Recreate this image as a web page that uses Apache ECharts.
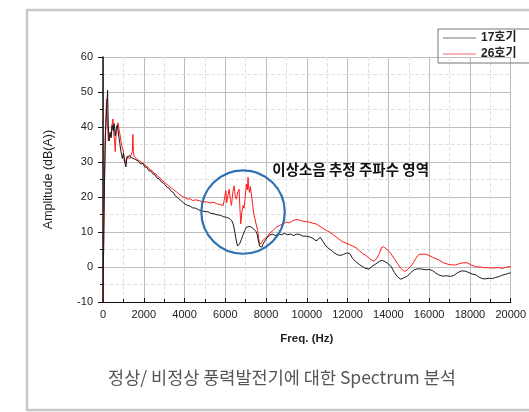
<!DOCTYPE html>
<html>
<head>
<meta charset="utf-8">
<script src="https://cdn.jsdelivr.net/npm/echarts@6/dist/echarts.min.js"></script>
<style>
html,body{margin:0;padding:0;background:#fff;}
#c{width:529px;height:412px;}
</style>
</head>
<body>
<div id="c"></div>
<script>
// ---- data ----
const seriesNames = ['17호기', '26호기'];
const xTicks = [0, 2000, 4000, 6000, 8000, 10000, 12000, 14000, 16000, 18000, 20000];
const yTicks = [-10, 0, 10, 20, 30, 40, 50, 60];

const freq17 = [0,60,120,180,225,260,300,350,400,450,500,550,600,650,700,760,820,880,950,1000,1060,1124,1180,1250,1320,1400,1480,1560,1650,1750,1850,1950,2050,2150,2250,2350,2450,2550,2650,2750,2850,2950,3050,3150,3250,3350,3450,3550,3650,3750,3850,3950,4050,4150,4266,4400,4550,4700,4850,5000,5150,5300,5450,5600,5750,5900,6050,6221,6320,6400,6470,6540,6600,6640,6700,6791,6870,6953,7040,7115,7200,7300,7400,7500,7570,7630,7686,7740,7790,7850,7932,8050,8176,8300,8450,8600,8750,8900,9050,9200,9350,9500,9650,9800,9969,10130,10300,10450,10550,10650,10720,10800,10900,11000,11189,11350,11500,11650,11800,11950,12100,12250,12411,12600,12750,12900,13050,13200,13389,13550,13700,13850,14000,14150,14300,14450,14608,14750,14934,15100,15260,15450,15667,15850,16000,16154,16300,16450,16642,16850,17050,17212,17400,17600,17785,17950,18100,18274,18450,18600,18762,18950,19100,19251,19450,19600,19740,19900,20000];
const amp17 = [-10,20,38,45,50.5,40,36,38.5,37,40.5,39,41,37.5,39.5,40.5,38,35.5,33,31,32.5,30,28.6,31.5,31,31.8,31.2,31.6,30.8,30.5,30.2,29.4,29.6,28.6,28.4,27.5,27.4,26.6,26.3,25.4,25.2,24.4,24.0,23.5,22.7,22.5,21.6,21.3,20.3,19.9,19.3,18.9,18.3,17.9,17.6,17.4,16.9,16.8,16.3,16.1,15.8,15.8,15.3,15.2,14.9,14.8,14.4,14.2,13.8,13.2,12.0,9.8,7.5,6.0,5.8,6.6,7.9,9.2,10.4,11.4,11.8,11.6,11.3,10.8,10.2,9.2,7.3,5.9,5.4,5.7,6.5,7.4,8.4,9.1,9.4,9.0,9.5,9.2,9.6,9.2,9.4,9.0,9.4,9.3,8.8,8.8,8.6,8.2,7.5,7.8,8.5,8.2,7.2,6.3,5.6,4.8,4.0,3.5,3.3,3.6,4.0,3.9,2.4,1.5,0.6,0.0,-0.4,-0.6,0.2,0.9,1.6,1.9,1.5,0.9,0.0,-1.6,-2.8,-3.5,-3.1,-2.6,-1.6,-0.8,-0.5,-0.6,-0.8,-0.7,-1.0,-1.6,-2.2,-2.6,-2.5,-2.7,-2.4,-1.6,-1.1,-1.2,-1.6,-2.0,-2.2,-2.9,-3.3,-3.4,-3.2,-3.3,-3.0,-2.7,-2.3,-2.1,-1.8,-1.7];

const freq26 = [0,50,100,170,210,260,320,380,430,488,530,570,600,640,690,733,780,830,880,928,980,1030,1080,1124,1180,1250,1320,1400,1440,1466,1490,1530,1600,1700,1800,1900,2000,2100,2200,2300,2400,2500,2600,2700,2800,2900,3000,3100,3200,3300,3400,3500,3600,3700,3777,3900,4000,4130,4266,4400,4550,4755,4900,5081,5250,5400,5570,5750,5900,5977,6025,6070,6130,6188,6250,6303,6370,6432,6490,6547,6610,6676,6720,6758,6810,6870,6920,6968,7036,7080,7115,7150,7183,7222,7262,7300,7345,7400,7456,7520,7589,7640,7671,7720,7784,7850,7950,8092,8200,8337,8500,8650,8826,9000,9152,9300,9480,9641,9800,9969,10130,10300,10458,10619,10800,10947,11108,11300,11500,11700,11922,12100,12250,12411,12576,12750,12900,13065,13200,13308,13420,13552,13667,13780,13877,14000,14121,14286,14450,14612,14750,14855,15000,15180,15350,15500,15588,15800,15995,16200,16482,16700,16970,17150,17296,17450,17626,17866,18050,18273,18500,18700,18925,19150,19400,19577,19800,20000];
const amp26 = [-10,15,35,48,42,36,38,37,40,42.3,38,36,33,37.5,40,41.2,39.5,38,36,34.5,33.5,31.5,30.5,29.5,31.5,31.8,31,31.5,33,37.9,33,31.6,31.2,30.6,30.4,29.8,29.6,28.9,28.6,27.8,27.6,26.8,26.6,25.8,25.5,24.7,24.4,23.7,23.3,22.8,22.4,21.9,21.5,21.0,20.7,20.1,19.9,19.4,19.5,19.0,19.2,18.9,18.6,18.6,18.3,18.5,18.1,17.8,17.6,17.5,21.8,18.4,20.5,22.2,19.0,17.6,21.5,23.2,20.0,19.4,21.5,22.2,16.5,12.3,15.5,17.6,16.8,19.4,23.7,22.0,25.6,22.5,21.3,23.0,23.2,20.0,17.6,15.0,13.7,12.0,10.4,8.0,7.1,6.5,6.6,7.6,8.2,8.8,9.8,10.4,11.4,11.8,12.3,12.8,12.6,13.2,13.6,13.4,13.1,13.0,12.8,12.5,12.3,11.7,11.0,10.5,10.0,9.2,8.3,7.4,6.8,6.4,6.0,5.5,4.6,3.8,3.3,2.5,1.9,1.7,2.4,3.8,5.6,5.8,5.2,4.6,3.8,2.4,1.0,-0.4,-1.1,-1.2,-0.4,0.8,2.5,3.6,3.9,3.7,3.3,2.7,2.0,1.2,0.7,0.6,0.6,0.9,1.2,1.2,0.6,0.1,0.0,-0.2,-0.2,-0.3,-0.1,-0.4,0.0,0.1];

const noteText = '이상소음 추정 주파수 영역';
const noteAt = [12150, 27.9];
const circleAt = [6870, 15.7];
const caption = '정상/ 비정상 풍력발전기에 대한 Spectrum 분석';

// ---- chart ----
const chart = echarts.init(document.getElementById('c'), null, {renderer: 'canvas'});
const zip = (a, b) => a.map((v, i) => [v, b[i]]);
const baseFont = 'Liberation Sans, Arial, Noto Sans CJK KR, sans-serif';

const option = {
  animation: false,
  backgroundColor: '#fff',
  grid: {left: 103, right: 17, top: 57, bottom: 110, containLabel: false},
  legend: {
    orient: 'vertical',
    align: 'left',
    left: 438, top: 29,
    padding: [3, 30, 3, 5],
    itemGap: 4,
    itemWidth: 33, itemHeight: 1,
    borderColor: '#777', borderWidth: 1,
    icon: 'rect',
    textStyle: {fontFamily: baseFont, fontWeight: 'bold', fontSize: 12, color: '#222', padding: [0,0,0,0]},
    data: [
      {name: seriesNames[0], itemStyle: {color: '#777'}},
      {name: seriesNames[1], itemStyle: {color: '#f06a6a'}}
    ]
  },
  xAxis: {
    type: 'value', min: 0, max: 20000, interval: 2000,
    name: 'Freq. (Hz)', nameLocation: 'middle', nameGap: 31,
    nameTextStyle: {fontFamily: baseFont, fontWeight: 'bold', fontSize: 11.5, color: '#222'},
    axisLine: {show: true, onZero: false, lineStyle: {color: '#111', width: 1.2}},
    axisTick: {show: true, inside: true, length: 4, lineStyle: {color: '#111'}},
    minorTick: {show: true, splitNumber: 2, length: 3, lineStyle: {color: '#111'}},
    axisLabel: {fontFamily: baseFont, fontSize: 11, color: '#222', margin: 7,
      formatter: v => String(v)},
    splitLine: {show: true, lineStyle: {color: '#bdbdbd', width: 1}},
    minorSplitLine: {show: true, lineStyle: {color: '#e2e2e2', type: 'dashed', width: 1}}
  },
  yAxis: {
    type: 'value', min: -10, max: 60, interval: 10,
    name: 'Amplitude (dB(A))', nameLocation: 'middle', nameGap: 48,
    nameTextStyle: {fontFamily: baseFont, fontSize: 12.5, color: '#222'},
    axisLine: {show: true, onZero: false, lineStyle: {color: '#111', width: 1.5}},
    axisTick: {show: true, inside: false, length: 5, lineStyle: {color: '#111'}},
    minorTick: {show: true, splitNumber: 2, length: 3, lineStyle: {color: '#111'}},
    axisLabel: {fontFamily: baseFont, fontSize: 11, color: '#222', margin: 10,
      formatter: v => String(v)},
    splitLine: {show: true, lineStyle: {color: '#bdbdbd', width: 1}},
    minorSplitLine: {show: true, lineStyle: {color: '#e2e2e2', type: 'dashed', width: 1}}
  },
  series: [
    {name: seriesNames[0], type: 'line', data: zip(freq17, amp17), showSymbol: false, symbol: 'none',
     lineStyle: {color: '#1a1a1a', width: 1}, itemStyle: {color: '#1a1a1a'}, z: 3},
    {name: seriesNames[1], type: 'line', data: zip(freq26, amp26), showSymbol: false, symbol: 'none',
     lineStyle: {color: '#ff1a1a', width: 1}, itemStyle: {color: '#ff1a1a'}, z: 2}
  ]
};
chart.setOption(option);

const c = chart.convertToPixel({gridIndex: 0}, circleAt);
const n = chart.convertToPixel({gridIndex: 0}, noteAt);
chart.setOption({
  graphic: [
    {type: 'rect', shape: {x: 27, y: 10, width: 520, height: 400},
     style: {fill: 'none', stroke: '#c8c8c8', lineWidth: 2.5}, silent: true, z: 0},
    {type: 'circle', shape: {cx: c[0], cy: c[1], r: 41.7},
     style: {fill: 'none', stroke: '#2f72b4', lineWidth: 2.2}, z: 100},
    {type: 'text', x: n[0], y: n[1],
     style: {text: noteText, fill: '#111', font: 'bold 14.5px "Noto Sans CJK KR", sans-serif',
             textAlign: 'center', textVerticalAlign: 'middle'}, z: 100},
    {type: 'text', x: 282, y: 377,
     style: {text: caption, fill: '#555', font: '17.5px "Noto Sans CJK KR", sans-serif',
             textAlign: 'center', textVerticalAlign: 'middle'}, z: 100}
  ]
});
</script>
</body>
</html>
